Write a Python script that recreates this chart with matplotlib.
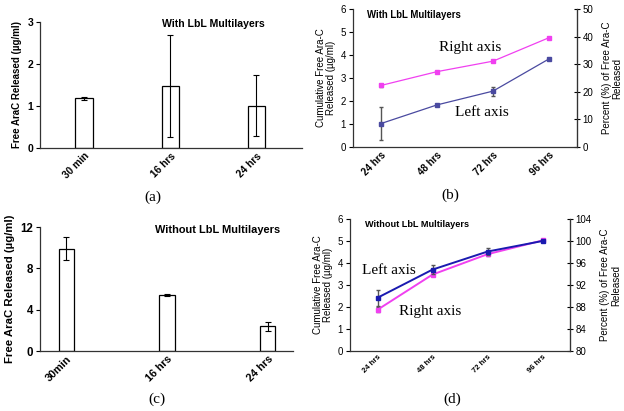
import matplotlib
matplotlib.use("Agg")
import matplotlib.pyplot as plt

plt.rcParams['font.family'] = ['Liberation Sans', 'DejaVu Sans']

# (a) with LbL multilayers, free AraC released
a_labels = ['30 min', '16 hrs', '24 hrs']
a_vals = [1.18, 1.48, 1.01]
a_err = [0.04, 1.21, 0.73]

# (b) with LbL, cumulative (left) and percent (right)
b_labels = ['24 hrs', '48 hrs', '72 hrs', '96 hrs']
b_cum = [1.02, 1.83, 2.43, 3.83]
b_cum_err = [0.72, 0.05, 0.2, 0.0]
b_pct = [22.3, 27.3, 31.1, 39.6]
b_pct_err = [0.5, 0.3, 0.3, 0.2]

# (c) without LbL multilayers
c_labels = ['30min', '16 hrs', '24 hrs']
c_vals = [9.9, 5.4, 2.4]
c_err = [1.1, 0.1, 0.43]

# (d) without LbL, cumulative (left) and percent (right)
d_labels = ['24 hrs', '48 hrs', '72 hrs', '96 hrs']
d_cum = [2.42, 3.7, 4.52, 5.0]
d_cum_err = [0.37, 0.2, 0.17, 0.0]
d_pct = [87.5, 93.9, 97.6, 100.1]
d_pct_err = [0.5, 0.3, 0.3, 0.2]

BLUE_B = '#4a4aa0'
BLUE_D = '#1a1ab0'
PINK = '#f040f0'

fig = plt.figure(figsize=(6.24, 4.11), dpi=100)


def style(ax, right=False):
    ax.spines['top'].set_visible(False)
    if not right:
        ax.spines['right'].set_visible(False)
    for s in ax.spines.values():
        s.set_linewidth(0.9)
        s.set_color('#333333')
    ax.tick_params(axis='x', length=0, pad=2)
    ax.tick_params(axis='y', direction='out', length=3, width=0.8, pad=2)


def bar_panel(rect, labels, vals, errs, ylim, yticks, ylabel, title, title_xy, title_fs,
              width, xlim, tick_fs, xtick_fs, lab_fs, panel, panel_xy):
    ax = fig.add_axes(rect)
    x = range(len(vals))
    ax.bar(x, vals, width=width, color='white', edgecolor='black', linewidth=0.9,
           yerr=errs, error_kw=dict(ecolor='black', elinewidth=0.8, capsize=2.5, capthick=0.8))
    ax.set_xlim(*xlim)
    ax.set_ylim(*ylim)
    ax.set_yticks(yticks)
    ax.set_xticks(list(x))
    ax.set_xticklabels(labels, rotation=45, ha='right', rotation_mode='anchor',
                       fontsize=xtick_fs, fontweight='bold')
    for t in ax.get_yticklabels():
        t.set_fontsize(tick_fs)
        t.set_fontweight('bold')
    ax.set_ylabel(ylabel, fontsize=lab_fs, fontweight='bold', labelpad=4)
    style(ax)
    fig.text(title_xy[0] / 624, 1 - title_xy[1] / 411, title, fontsize=title_fs,
             fontweight='bold', va='center', ha='left')
    fig.text(panel_xy[0] / 624, 1 - panel_xy[1] / 411, panel, fontsize=11,
             family='Liberation Serif', ha='center', va='center')
    return ax


def line_panel(rect, labels, cum, cum_err, pct, pct_err, ylim2, yticks2, blue, lw,
               title, title_xy, title_fs, left_xy, right_xy, panel, panel_xy, xtick_fs):
    ax = fig.add_axes(rect)
    ax2 = ax.twinx()
    x = list(range(len(cum)))
    ax2.errorbar(x, pct, yerr=pct_err, color=PINK, lw=lw, marker='s', ms=2.2,
                 ecolor='#555555', elinewidth=0.8, capsize=1.5)
    ax.errorbar(x, cum, yerr=cum_err, color=blue, lw=lw, marker='s', ms=2.2,
                ecolor='#555555', elinewidth=1.0, capsize=1.5, zorder=3)
    ax.set_zorder(ax2.get_zorder() + 1)
    ax.patch.set_visible(False)
    ax.set_xlim(-0.5, 3.5)
    ax.set_ylim(0, 6)
    ax.set_yticks(range(7))
    ax2.set_ylim(*ylim2)
    ax2.set_yticks(yticks2)
    ax.set_xticks(x)
    ax.set_xticklabels(labels, rotation=45, ha='right', rotation_mode='anchor',
                       fontsize=xtick_fs, fontweight='bold')
    for t in ax.get_yticklabels() + ax2.get_yticklabels():
        t.set_fontsize(7)
    ax.set_ylabel('Cumulative Free Ara-C\nReleased (µg/ml)', fontsize=7, labelpad=3,
                  linespacing=1.1)
    ax2.set_ylabel('Percent (%) of Free Ara-C\nReleased', fontsize=7, rotation=90,
                   labelpad=6, linespacing=1.1)
    style(ax, right=True)
    ax2.spines['top'].set_visible(False)
    ax2.spines['left'].set_visible(False)
    ax2.spines['bottom'].set_visible(False)
    ax2.spines['right'].set_color('#333333')
    ax2.tick_params(axis='y', direction='inout', length=4, width=0.8, pad=2)
    fig.text(title_xy[0] / 624, 1 - title_xy[1] / 411, title, fontsize=title_fs,
             fontweight='bold', va='center', ha='left')
    fig.text(left_xy[0] / 624, 1 - left_xy[1] / 411, 'Left axis', fontsize=11,
             family='Liberation Serif', va='center', ha='left')
    fig.text(right_xy[0] / 624, 1 - right_xy[1] / 411, 'Right axis', fontsize=11,
             family='Liberation Serif', va='center', ha='left')
    fig.text(panel_xy[0] / 624, 1 - panel_xy[1] / 411, panel, fontsize=11,
             family='Liberation Serif', ha='center', va='center')
    return ax


bar_panel([40 / 624, 1 - 148 / 411, 262 / 624, 126 / 411], a_labels, a_vals, a_err,
          (0, 3), [0, 1, 2, 3], 'Free AraC Released (µg/ml)', 'With LbL Multilayers',
          (162, 24), 7.6, 0.2, (-0.51, 2.53), 7.5, 7.3, 7, '(a)', (153, 197))

line_panel([353 / 624, 1 - 147 / 411, 224 / 624, 138 / 411], b_labels, b_cum, b_cum_err,
           b_pct, b_pct_err, (0, 50), [0, 10, 20, 30, 40, 50], BLUE_B, 0.9,
           'With LbL Multilayers', (367, 15), 6.9, (455, 112), (439, 48), '(b)', (450, 195), 7)

bar_panel([40 / 624, 1 - 351 / 411, 253 / 624, 124 / 411], c_labels, c_vals, c_err,
          (0, 12), [0, 4, 8, 12], 'Free AraC Released (µg/ml)', 'Without LbL Multilayers',
          (155, 230), 7.9, 0.15, (-0.26, 2.25), 8.3, 7.8, 8.2, '(c)', (157, 399))

line_panel([350 / 624, 1 - 351 / 411, 220 / 624, 132 / 411], d_labels, d_cum, d_cum_err,
           d_pct, d_pct_err, (80, 104), [80, 84, 88, 92, 96, 100, 104], BLUE_D, 1.4,
           'Without LbL Multilayers', (365, 224), 6.6, (362, 270), (399, 312), '(d)', (452, 399), 5.5)

fig.savefig('out.png', dpi=100)
